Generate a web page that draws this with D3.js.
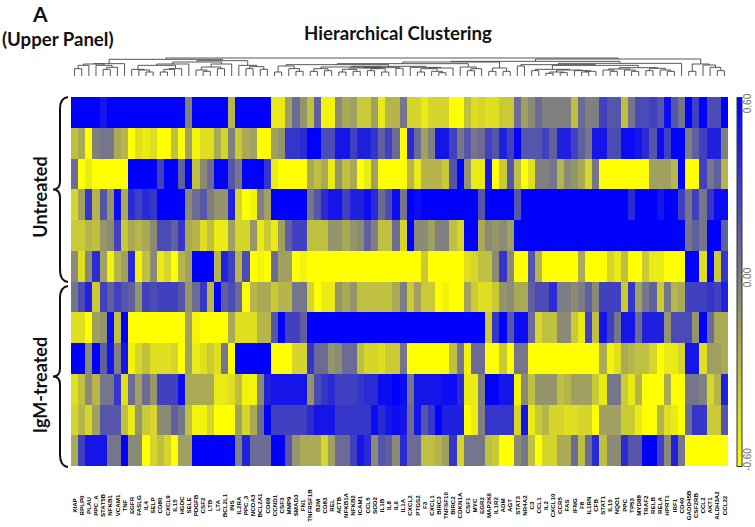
<!DOCTYPE html>
<html>
<head>
<meta charset="utf-8">
<script src="https://cdn.jsdelivr.net/npm/d3@7/dist/d3.min.js"></script>
<style>
html,body{margin:0;padding:0;background:#fff;}
svg{display:block;}
text{font-family:"Lato","Open Sans",sans-serif;}
</style>
</head>
<body>
<svg id="chart" width="755" height="527"></svg>
<script>
const genes = ["XIAP","RPLP0","PLAU","PPC_A","STAT5B","NFKB1","VCAM1","TNF","EGFR","FASLG",
"IL4","SELP","CD80","CXCL9","IL15","HGDC","SELE","PDGFB","CSF2","LTB",
"LTA","BCL2L1","INS","IL2RA","PPC_3","NCOA3","BCL2A1","CD69","CCND1","CSF3",
"MMP9","SMAD3","FN1","TNFRSF1B","B2M","CD83","REL","ACTB","NFKB1A","NFKB2",
"ICAM1","CCL5","SOD2","IL1B","IL8","IL6","IL1A","CXCL2","PTGS2","F3",
"CXCL1","BIRC3","TNFSF10","BIRC2","CDKN1A","CSF1","MYC","EGR2","MAP2K6","IL1R2",
"ADM","AGT","STAT3","NR4A2","C3","CCL1","IL2","CXCL10","CCR5","FAS",
"IFNG","F8","IL1RN","CFB","STAT1","IL10","NQO1","PPC","TP53","MYD88",
"TRAF2","RELB","RELA","HPRT1","IRF1","CD40","GADD45B","CSF2RB","CCL2","AKT1",
"ALDH3A2","CCL22"];

const sample1 = [.6,.6,.6,.6,.5,.6,.6,.6,.6,.6, .6,.6,.6,.6,.6,.6,0,.6,.6,.6, .6,.6,-.25,.6,.6,.6,.6,.6,-.5,-.5, -.15,.1,-.1,-.3,.15,-.55,-.55,-.05,-.2,-.15, -.35,-.35,-.15,-.5,-.25,-.25,.05,-.4,-.4,-.5, -.4,-.4,-.4,-.6,-.6,-.3,-.45,-.4,-.45,-.45, -.35,-.35,.1,-.15,-.05,.1,0,0,0,0, -.3,.1,0,0,.3,.2,.2,-.3,.05,.25, .25,.3,.2,.55,.2,.05,.6,.3,.6,.25,.25,.6];
const sample2 = [-.3,-.2,-.6,0,.05,.05,-.2,-.25,-.6,-.45, -.5,-.45,-.6,-.6,-.3,-.6,-.15,-.55,-.45,-.45, -.2,-.4,0,-.35,-.2,-.15,-.6,-.6,-.15,-.1, .35,.35,.4,.6,.6,.25,.25,.5,.5,.3, .45,.45,.35,.15,.3,.1,-.6,.4,.1,-.15, 0,.5,.5,.3,.05,.2,.05,.1,.3,.2, .45,.3,.6,.2,.2,.2,.3,.15,.45,.45, .3,.15,.05,.5,.5,.25,.25,.55,.55,.5, .4,.2,.55,.3,.6,.6,0,.15,.3,.45,.45,0];
const sample3 = [.1,-.6,-.5,-.6,-.6,-.6,-.6,-.6,.6,.6, .6,.6,.3,.6,.6,.15,.6,-.3,-.05,.1, .6,.6,.2,.05,.6,.6,.6,.35,-.5,-.6, -.6,-.6,-.6,-.2,-.3,-.2,-.5,-.1,-.3,-.2, -.6,-.5,-.15,-.6,-.6,-.6,-.6,-.25,-.5,-.25, -.25,-.25,-.35,.2,.6,-.1,-.5,-.5,.5,-.6, -.35,.2,-.3,-.6,-.45,0,0,.05,-.25,-.05, -.1,-.2,-.4,.05,-.6,-.6,-.6,-.6,-.6,-.6, -.6,-.15,-.15,-.15,-.25,.6,-.6,-.6,.3,.05,.15,-.25];
const sample4 = [-.4,-.15,.35,-.25,.2,-.1,.55,-.2,.4,.3, .4,.35,.6,.6,.6,.6,-.05,.1,.2,0, -.1,-.1,.45,-.4,-.6,-.55,0,-.15,.6,.6, .6,.6,.6,.05,.2,.4,.5,.5,.3,.45, .45,.55,.4,.1,.25,.55,.05,.6,.55,.6, .6,.6,.6,.6,.6,.6,.6,.2,.6,.6, .6,.6,.2,.6,.6,.6,.6,.6,.6,.6, .6,.6,.6,.6,.6,.6,.6,.6,.4,.6, .6,.6,.5,.6,.6,.3,.05,.3,.05,.35,.55,.55];
const sample5 = [-.35,-.35,-.25,-.3,-.1,-.05,.3,-.35,-.2,-.25, -.2,-.05,.25,.25,.15,.35,-.2,-.25,-.45,-.3, -.5,-.5,-.15,-.4,-.4,-.1,-.5,-.35,-.5,-.15, .15,.3,.3,-.3,-.3,-.3,-.1,-.1,-.2,-.1, -.05,.15,0,-.3,-.3,.1,-.4,.6,-.05,-.05, -.15,0,0,-.3,-.4,.6,.6,-.2,-.05,-.1, -.05,-.15,.6,.6,.6,.6,.6,.6,.6,.6, .6,.6,.6,.6,.6,.6,.6,.6,.6,.6, .6,.6,.6,.6,.6,.6,.05,.15,.05,.6,.6,.15];
const sample6 = [-.05,-.45,-.05,.4,-.15,-.55,-.25,-.15,.4,-.55, -.3,-.05,-.5,-.4,-.6,-.25,-.15,.6,.6,.6, -.25,.45,.3,-.25,.25,-.6,-.55,-.6,.1,-.15, -.15,-.6,-.55,-.6,-.6,-.6,-.6,-.6,-.6,-.6, -.6,-.6,-.6,-.6,-.6,-.6,-.6,-.6,-.6,-.35, -.6,-.6,-.6,-.6,-.6,-.45,-.4,-.3,-.3,-.05, .35,-.05,-.6,-.6,.2,-.25,-.6,-.6,-.6,-.6, -.6,-.2,-.6,-.6,-.6,-.4,-.5,-.3,-.6,-.6, -.35,-.5,-.5,-.6,-.6,-.6,.6,.6,-.45,.6,-.35,.35];
const sample7 = [.05,.25,.45,-.35,.3,.15,.3,.2,.15,-.1, .3,.25,.3,.3,.3,.2,-.1,.1,.35,-.25, .6,.15,.25,.1,-.6,-.25,-.2,-.2,-.35,-.25, -.25,.05,.05,-.4,-.6,-.5,-.5,-.1,-.2,-.1, -.3,-.3,-.3,-.3,-.3,-.2,.02,-.35,-.15,-.35, -.35,-.6,-.55,-.6,-.6,-.15,-.35,-.45,-.45,-.35, -.1,-.05,-.2,-.2,.15,.25,.25,.4,.02,.02, -.05,.02,.15,-.05,.3,.3,.3,-.35,.35,-.15, .05,.15,-.35,.05,-.25,-.2,.3,.3,.3,.35,.3,.45];
const sample8 = [-.45,-.45,-.6,-.15,-.1,.55,-.3,.6,-.6,-.6, -.6,-.6,-.6,-.6,-.6,-.6,-.15,-.55,-.6,-.6, -.6,-.6,-.2,-.45,-.45,-.45,-.25,-.25,.2,.6, .3,.3,.15,.6,.6,.6,.6,.6,.6,.6, .6,.6,.6,.6,.6,.6,.6,.6,.6,.6, .6,.6,.6,.6,.6,.6,.6,.6,-.35,.35, .6,.2,.55,.55,.1,-.4,-.3,-.3,-.05,-.05, -.35,-.5,.3,-.3,.5,.3,.05,.5,.5,.1, .45,.45,.45,-.1,.25,.25,.25,-.1,.6,.1,-.2,-.2];
const sample9 = [.6,.6,-.05,.6,.15,.5,0,.5,-.55,-.4, -.3,-.45,-.45,-.45,-.4,-.6,-.15,-.5,-.45,-.35, -.45,.05,-.6,.6,.6,.6,.6,.6,-.6,-.6, -.6,-.4,-.4,.35,.1,.1,-.1,-.05,.1,.1, -.3,-.4,-.4,-.45,-.35,-.35,.05,-.6,-.6,-.6, -.6,-.6,-.6,-.3,.05,-.55,.1,.1,-.6,-.6, -.35,-.6,.05,.05,-.6,-.6,-.6,-.6,-.6,-.6, -.6,-.6,-.6,-.6,-.2,-.55,-.45,-.2,-.25,-.3, -.3,-.4,-.6,-.5,-.5,-.4,.5,.5,-.45,-.15,-.15,-.2];
const sample10 = [-.45,-.3,-.05,-.25,.05,.05,.35,-.45,.1,-.15, .1,-.1,.3,.3,.3,.55,-.2,-.2,-.2,-.2, -.5,-.5,-.45,-.3,-.55,-.55,-.05,.45,.5,.5, .5,.5,.5,-.1,.25,.35,.4,.3,.3,.3, .35,.4,.4,.55,.55,.6,.55,.05,.5,.5, .5,.5,.55,.55,.4,-.5,-.5,0,.6,.6, .5,.5,-.55,-.05,-.3,-.1,-.1,-.1,-.3,-.25, -.15,-.15,-.15,-.35,-.5,.05,.05,-.35,-.5,-.25, -.6,-.6,-.6,-.2,-.6,-.6,.05,.05,0,-.4,-.25,.45];
const sample11 = [-.4,-.25,-.4,-.15,.2,.2,.2,-.3,-.5,-.1, -.35,-.4,-.05,-.05,.15,.05,-.3,-.55,-.55,-.4, -.6,-.6,-.6,-.15,-.4,-.2,.1,.6,.3,.3, .3,.3,.3,.4,.5,.5,.5,.35,.35,.35, .35,.35,.55,.4,.5,.55,.5,.1,.5,.2, .35,.6,.45,.45,.45,-.6,-.5,0,.35,.35, .35,.35,-.4,.5,-.5,-.35,-.25,-.4,-.4,-.45, -.45,-.4,-.4,-.6,-.15,-.15,-.15,-.35,-.35,-.5, -.6,-.6,-.25,-.45,-.5,-.6,.1,.35,.35,-.35,-.35,.2];
const sample12 = [-.2,.3,.5,.5,.5,.05,.05,.6,-.05,-.05, -.6,-.4,-.3,-.4,-.6,-.15,-.15,.6,.6,.6, .6,.6,.6,0,.45,.1,.1,.1,.6,.6, .2,-.1,-.2,-.2,-.2,-.4,-.15,.1,.1,.3, .5,.4,-.05,.2,.15,-.05,.4,.1,.1,-.3, -.3,-.25,-.15,.35,-.4,.05,.05,.05,-.3,-.35, -.6,-.6,-.05,.05,-.3,-.6,-.4,-.4,-.2,-.2, .1,-.3,.1,.4,-.3,-.05,-.05,.4,.2,.2, .6,.6,.3,-.05,.45,.05,-.6,-.6,-.6,-.6,-.6,-.6];
const samples = [sample1,sample2,sample3,sample4,sample5,sample6,sample7,sample8,sample9,sample10,sample11,sample12];

// Gene clusters: [merge distance, left, right]; a bare number is an index into genes.
const clusterLeft = [50,
  [37,[36,[32,[22,0,1],2],[32,3,[26,[20,4,5],6]]],7],
  [46,[42,[36,[32,[20,8,[18,9,[12,10,11]]],[22,[20,[12,12,13],14],15]],16],[36,[27,[18,17,[14,18,19]],[22,20,21]],22]],
      [32,23,[28,[22,24,25],[20,26,27]]]]];
const clusterMidA = [34,
  [30,[12,28,29],[22,30,[14,31,32]]],
  [29,
    [27,[22,[14,33,34],[16,35,36]],[25,[24,[20,[12,37,38],[14,39,40]],[22,[16,41,42],[12,43,44]]],[23,45,46]]],
    [26,47,[24,[22,[12,48,49],[14,50,[10,51,52]]],53]]]];
const clusterMidB = [27,54,[22,[16,55,56],57]];
const clusterMidC = [24,[14,58,59],[14,60,61]];
const clusterRight = [38,
  [34,[30,62,63],[32,
    [20,[16,64,65],[18,[12,[8,66,67],[10,68,69]],[16,70,[14,[12,71,72],73]]]],
    [25,[21,[18,74,[14,75,76]],[18,77,[14,78,79]]],[23,[16,80,81],[18,82,[14,83,84]]]]]],
  85];
const clusterEnd = [36,[14,86,87],[33,88,[26,89,[16,90,91]]]];
const clusterTree = [54, clusterLeft,
  [51,[44,[42,[37,clusterMidA,clusterMidB],clusterMidC],clusterRight],clusterEnd]];

const legendTicks = [0.6, 0, -0.6];
const tickText = ["0.60","0.00","-0.60"];

const svg = d3.select("#chart");
const x = d3.scaleBand().domain(d3.range(genes.length)).range([71,728]);
const y = d3.scaleBand().domain(d3.range(samples.length)).range([97,466]);
const color = d3.scaleLinear().domain([-0.6,0,0.6]).range(["#ffff00","#808080","#0000ff"]);

// heat map
svg.append("g").selectAll("g").data(samples).join("g")
  .attr("transform",(d,i)=>`translate(0,${y(i)})`)
  .selectAll("rect").data(d=>d).join("rect")
  .attr("x",(d,j)=>x(j)).attr("width",x.bandwidth()+0.4).attr("height",y.bandwidth()+0.4)
  .attr("fill",d=>color(d)).attr("shape-rendering","crispEdges");

// dendrogram
const h = d3.scaleLinear().domain([0,54]).range([76,58]);
const root = d3.hierarchy(clusterTree,d=>Array.isArray(d)?d.slice(1):null);
root.eachAfter(n=>{
  if(n.children){ n.px=(n.children[0].px+n.children[1].px)/2; n.py=h(n.data[0]); }
  else { n.px=x(n.data)+x.bandwidth()/2; n.py=h(0); }
});
const links = root.descendants().filter(n=>n.children);
svg.append("g").attr("fill","none").attr("stroke","#444").attr("stroke-width",0.9)
  .selectAll("path").data(links).join("path")
  .attr("d",n=>{
    const p=d3.path(), [a,b]=n.children;
    p.moveTo(a.px,a.py); p.lineTo(a.px,n.py); p.lineTo(b.px,n.py); p.lineTo(b.px,b.py);
    return p.toString();
  });

// gene labels
const geneAxis = d3.axisBottom(d3.scaleBand().domain(genes).range(x.range())).tickSize(0);
const gAxis = svg.append("g").attr("transform","translate(0,466)").call(geneAxis);
gAxis.select(".domain").remove();
gAxis.selectAll("text")
  .attr("transform","rotate(-90)").attr("x",-39.5).attr("y",0).attr("dy","0.35em")
  .attr("text-anchor","middle")
  .style("font-family","'Liberation Sans',sans-serif").style("font-size","6.2px").style("font-weight","700").attr("fill","#000");

// colour legend
const defs = svg.append("defs");
const grad = defs.append("linearGradient").attr("id","lg").attr("x1",0).attr("y1",0).attr("x2",0).attr("y2",1);
legendTicks.forEach((v,i)=>grad.append("stop").attr("offset",i/2).attr("stop-color",color(v)));
const lScale = d3.scaleLinear().domain([-0.6,0.6]).range([466.5,97.5]);
svg.append("rect").attr("x",737).attr("y",lScale(0.6)).attr("width",5).attr("height",lScale(-0.6)-lScale(0.6))
  .attr("fill","url(#lg)").attr("stroke","#333").attr("stroke-width",1);
const labelShift = [6,-4.5,-7];
svg.append("g").selectAll("text").data(legendTicks).join("text")
  .attr("transform",(d,i)=>`translate(751,${lScale(d)+labelShift[i]}) rotate(-90)`)
  .attr("text-anchor","middle").attr("font-size",10).attr("fill","#666")
  .style("font-family","'Liberation Sans',sans-serif")
  .text((d,i)=>tickText[i]);

// titles
const title=(t,px,py,size,rot,anchor)=>svg.append("text").text(t)
  .attr("transform",`translate(${px},${py})${rot?" rotate(-90)":""}`)
  .attr("text-anchor",anchor).attr("font-size",size).attr("font-weight",700).attr("fill","#111");
title("A",33,22,21,false,"start");
title("(Upper Panel)",2,46,18.6,false,"start");
title("Hierarchical Clustering",398,40,18.6,false,"middle");
title("Untreated",47,197,18,true,"middle");
title("IgM-treated",47,385,18,true,"middle");

// group braces
const braces=[[97,282],[286,467]];
svg.append("g").attr("fill","none").attr("stroke","#111").attr("stroke-width",2)
  .selectAll("path").data(braces).join("path")
  .attr("d",([a,b])=>{
    const m=(a+b)/2,p=d3.path();
    p.moveTo(68,a); p.quadraticCurveTo(60,a+1,60,a+12); p.lineTo(60,m-8);
    p.quadraticCurveTo(60,m,53,m); p.quadraticCurveTo(60,m,60,m+8);
    p.lineTo(60,b-12); p.quadraticCurveTo(60,b-1,68,b);
    return p.toString();
  });
</script>
</body>
</html>
